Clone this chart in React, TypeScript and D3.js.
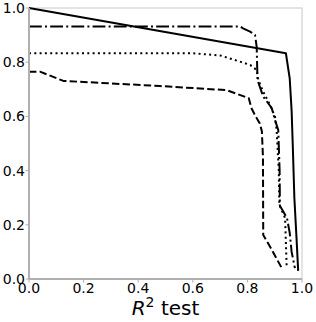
import React from 'react';
import * as d3 from 'd3';

// curves: [R2 test, fraction]
const solidLine: [number, number][] = [
    [0, 1.0], [0.941, 0.833], [0.955, 0.74], [0.962, 0.62], [0.966, 0.5],
    [0.972, 0.3], [0.98, 0.15], [0.986, 0.03]
];
const dashDotLine: [number, number][] = [
    [0, 0.932], [0.773, 0.932], [0.784, 0.925], [0.81, 0.913], [0.828, 0.9],
    [0.834, 0.857], [0.837, 0.734], [0.858, 0.673], [0.889, 0.631], [0.901, 0.587],
    [0.913, 0.55], [0.918, 0.4], [0.919, 0.27], [0.945, 0.225], [0.955, 0.17],
    [0.962, 0.1], [0.974, 0.04]
];
const dottedLine: [number, number][] = [
    [0, 0.833], [0.6, 0.833], [0.7, 0.825], [0.773, 0.802], [0.81, 0.79],
    [0.834, 0.771], [0.84, 0.734], [0.858, 0.691], [0.883, 0.642], [0.901, 0.599],
    [0.907, 0.55], [0.915, 0.4], [0.917, 0.273], [0.938, 0.225], [0.944, 0.04]
];
const dashedLine: [number, number][] = [
    [0, 0.765], [0.04, 0.765], [0.126, 0.731], [0.48, 0.712], [0.724, 0.697],
    [0.805, 0.667], [0.815, 0.63], [0.83, 0.6], [0.845, 0.575], [0.853, 0.545],
    [0.857, 0.45], [0.858, 0.162], [0.883, 0.119], [0.926, 0.04]
];
const tickValues = [0, 0.2, 0.4, 0.6, 0.8, 1.0];

const series = [
    { data: solidLine, dash: null },
    { data: dashDotLine, dash: '12.8,3.2,2,3.2' },
    { data: dottedLine, dash: '2,3.3' },
    { data: dashedLine, dash: '7.4,3.2' }
];

const App = () => {
    const width = 316;
    const height = 322;
    const left = 29, right = 302, top = 8, bottom = 279;

    const x = d3.scaleLinear().domain([0, 1]).range([left, right]);
    const y = d3.scaleLinear().domain([0, 1]).range([bottom, top]);

    const line = d3.line<[number, number]>()
        .x(d => x(d[0]))
        .y(d => y(d[1]));

    const font = 'DejaVu Sans, sans-serif';
    const axisColor = '#b0b0b0';

    return (
        <svg width={width} height={height}
            style={{ position: 'absolute', left: 0, top: 0, background: '#fff' }}>
            <rect x={left} y={top} width={right - left} height={bottom - top}
                fill="none" stroke="#c8c8c8" strokeWidth={1} />
            {series.map((s, i) => (
                <path key={i} d={line(s.data) || ''} fill="none" stroke="#000"
                    strokeWidth={2} strokeDasharray={s.dash || undefined}
                    strokeLinejoin="round" />
            ))}
            <line x1={left} x2={left} y1={top} y2={bottom} stroke={axisColor} strokeWidth={2} />
            <line x1={left} x2={right} y1={bottom} y2={bottom} stroke={axisColor} strokeWidth={2} />
            {tickValues.map(t => (
                <g key={'y' + t}>
                    <line x1={left - 3.5} x2={left} y1={y(t)} y2={y(t)} stroke={axisColor} strokeWidth={1} />
                    <text x={left - 4} y={y(t)} dy="0.36em" textAnchor="end"
                        fontFamily={font} fontSize={14} fill="#000">{t.toFixed(1)}</text>
                </g>
            ))}
            {tickValues.map(t => (
                <g key={'x' + t}>
                    <line x1={x(t)} x2={x(t)} y1={bottom} y2={bottom + 3.5} stroke={axisColor} strokeWidth={1} />
                    <text x={x(t)} y={bottom + 14} textAnchor="middle"
                        fontFamily={font} fontSize={14} fill="#000">{t.toFixed(1)}</text>
                </g>
            ))}
            <text x={(left + right) / 2} y={315} textAnchor="middle"
                fontFamily={font} fontSize={20} fill="#000">
                <tspan fontStyle="italic">R</tspan>
                <tspan fontSize={14} dy={-8}>2</tspan>
                <tspan dy={8}> test</tspan>
            </text>
        </svg>
    );
};

export default App;
